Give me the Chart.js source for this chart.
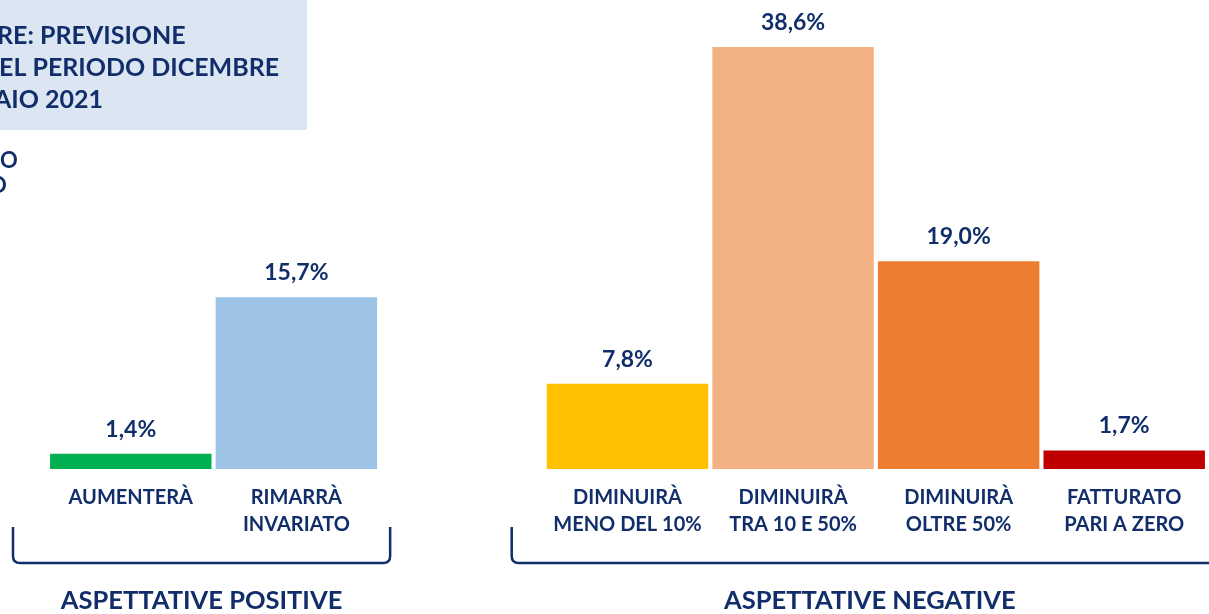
<!DOCTYPE html>
<html>
<head>
<meta charset="utf-8">
<script src="https://cdn.jsdelivr.net/npm/chart.js@4.4.0/dist/chart.umd.min.js"></script>
<style>
  html, body { margin: 0; padding: 0; background: #ffffff; }
  #wrap { width: 1209px; height: 614px; position: relative; }
</style>
</head>
<body>
<div id="wrap"><canvas id="fatturatochart"></canvas></div>
<script>
const navy = "#112e6b";
const fontName = "Lato";

// categories (empty slot separates the two groups)
const categories = [
    ["AUMENTERÀ"],
    ["RIMARRÀ", "INVARIATO"],
    [""],
    ["DIMINUIRÀ", "MENO DEL 10%"],
    ["DIMINUIRÀ", "TRA 10 E 50%"],
    ["DIMINUIRÀ", "OLTRE 50%"],
    ["FATTURATO", "PARI A ZERO"]
];
const values = [1.4, 15.7, null, 7.8, 38.6, 19.0, 1.7];
const barColors = ["#00b050", "#9dc3e6", "#ffffff", "#ffc000", "#f4b183", "#ed7d31", "#c00000"];
const groupLabels = ["ASPETTATIVE POSITIVE", "ASPETTATIVE NEGATIVE"];
const titleLines = ["RE: PREVISIONE", "EL PERIODO DICEMBRE", "AIO 2021"];
const subLines = ["O", "O"];

// value labels, brackets, title box
const decorPlugin = {
    id: "decor",
    beforeDraw(chart) {
        const ctx = chart.ctx;
        ctx.save();
        ctx.fillStyle = "#dce6f2";
        ctx.fillRect(0, 0, 307, 130);
        ctx.fillStyle = navy;
        ctx.font = "bold 25px " + fontName;
        ctx.textAlign = "left";
        ctx.textBaseline = "alphabetic";
        ctx.fillText(titleLines[0], -3, 44);
        ctx.fillText(titleLines[1], -1, 76);
        ctx.fillText(titleLines[2], -6, 108);
        ctx.font = "bold 22px " + fontName;
        ctx.fillText(subLines[0], 0, 168);
        ctx.fillText(subLines[1], -11, 193);
        ctx.restore();
    },
    afterDatasetsDraw(chart) {
        const ctx = chart.ctx;
        const meta = chart.getDatasetMeta(0);
        ctx.save();
        ctx.fillStyle = navy;
        ctx.font = "bold 23px " + fontName;
        ctx.textAlign = "center";
        ctx.textBaseline = "alphabetic";
        meta.data.forEach((bar, i) => {
            if (values[i] === null) return;
            const txt = values[i].toFixed(1).replace(".", ",") + "%";
            ctx.fillText(txt, bar.x, bar.y - 17);
        });

        // brackets under the category labels
        const xs = chart.scales.x;
        const half = (xs.getPixelForValue(1) - xs.getPixelForValue(0)) / 2;
        const groups = [
            [xs.getPixelForValue(0) - half - 35, xs.getPixelForValue(1) + half + 11],
            [xs.getPixelForValue(3) - half - 33, xs.getPixelForValue(6) + half + 21]
        ];
        const yTop = 527, yBot = 563, r = 7;
        ctx.strokeStyle = navy;
        ctx.lineWidth = 2.5;
        groups.forEach((g, k) => {
            ctx.beginPath();
            ctx.moveTo(g[0], yTop);
            ctx.lineTo(g[0], yBot - r);
            ctx.quadraticCurveTo(g[0], yBot, g[0] + r, yBot);
            ctx.lineTo(g[1] - r, yBot);
            ctx.quadraticCurveTo(g[1], yBot, g[1], yBot - r);
            ctx.lineTo(g[1], yTop);
            ctx.stroke();
            ctx.font = "bold 25.5px " + fontName;
            ctx.fillText(groupLabels[k], (g[0] + g[1]) / 2, 609);
        });
        ctx.restore();
    }
};

const fatturatoChart = document.getElementById("fatturatochart");
const fatturatoChartInstance = new Chart(fatturatoChart, {
    type: "bar",
    data: {
        labels: categories,
        datasets: [{
            label: "Fatturato",
            data: values,
            backgroundColor: barColors,
            borderWidth: 0,
            barPercentage: 0.975,
            categoryPercentage: 1.0
        }]
    },
    options: {
        responsive: true,
        maintainAspectRatio: false,
        animation: false,
        layout: {
            padding: { left: 48, right: 2, top: 0, bottom: 61 }
        },
        plugins: {
            legend: { display: false },
            tooltip: { enabled: false }
        },
        scales: {
            y: {
                display: false,
                min: 0,
                max: 42.9
            },
            x: {
                grid: { display: false, drawTicks: false },
                border: { display: false },
                ticks: {
                    color: navy,
                    padding: 15,
                    autoSkip: false,
                    maxRotation: 0,
                    font: { family: fontName, size: 20, weight: "bold", lineHeight: 1.35 }
                }
            }
        }
    },
    plugins: [decorPlugin]
});
</script>
</body>
</html>
